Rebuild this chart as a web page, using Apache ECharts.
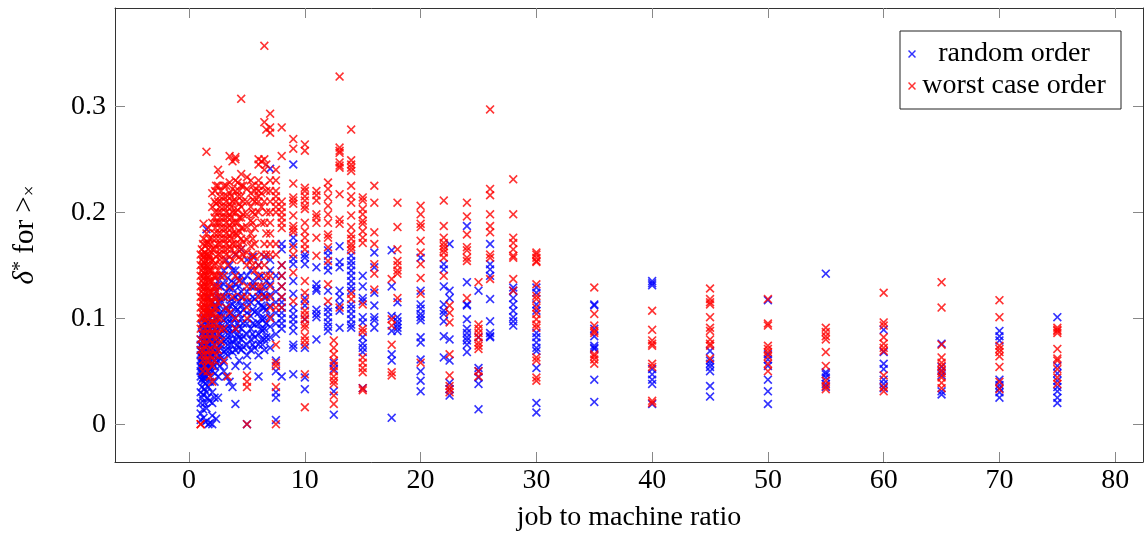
<!DOCTYPE html>
<html>
<head>
<meta charset="utf-8">
<script src="https://cdn.jsdelivr.net/npm/echarts@6/dist/echarts.min.js"></script>
<style>html,body{margin:0;padding:0;background:#fff}#c{width:1144px;height:540px}</style>
</head>
<body>
<div id="c"></div>
<script>
// ---- data: each row = [x, y1, y2, ...] ----
const seriesNames = ['random order', 'worst case order'];
const xTicks = [0, 10, 20, 30, 40, 50, 60, 70, 80];
const yTicks = [0, 0.1, 0.2, 0.3];

const randomOrder = [
  [1, 0.045, 0.05, 0.055, 0.06, 0.065, 0.07, 0.075, 0.08, 0.03, 0.02, 0.01, 0.004],
  [1.1, 0.042, 0.048, 0.053, 0.058, 0.063, 0.068, 0.074, 0.085, 0.093, 0.035, 0.025],
  [1.2, 0.044, 0.05, 0.056, 0.062, 0.067, 0.072, 0.078, 0.09, 0.1, 0.014, 0.028],
  [1.25, 0.047, 0.052, 0.059, 0.065, 0.071, 0.08, 0.088, 0.04, 0.006],
  [1.33, 0.043, 0.05, 0.057, 0.064, 0.07, 0.077, 0.084, 0.096, 0.033, 0.02],
  [1.4, 0.046, 0.052, 0.06, 0.068, 0.075, 0.082, 0.09, 0.1, 0.038, 0.002],
  [1.5, 0.045, 0.05, 0.055, 0.062, 0.069, 0.076, 0.083, 0.091, 0.105, 0.184, 0.03, 0.015],
  [1.6, 0.048, 0.056, 0.063, 0.07, 0.078, 0.087, 0.095, 0.11, 0.025],
  [1.67, 0.05, 0.058, 0.066, 0.074, 0.082, 0.09, 0.098, 0.12, 0.035, 0.0],
  [1.75, 0.052, 0.06, 0.068, 0.076, 0.085, 0.094, 0.105, 0.022],
  [1.8, 0.055, 0.063, 0.071, 0.08, 0.089, 0.1, 0.04, 0.001],
  [2, 0.05, 0.058, 0.065, 0.072, 0.08, 0.088, 0.096, 0.105, 0.115, 0.03, 0.02, 0.0, 0.008],
  [2.2, 0.055, 0.065, 0.075, 0.085, 0.095, 0.108, 0.12, 0.04, 0.025],
  [2.25, 0.06, 0.07, 0.08, 0.09, 0.1, 0.113, 0.13, 0.048],
  [2.33, 0.058, 0.068, 0.078, 0.088, 0.1, 0.112, 0.125, 0.005],
  [2.5, 0.06, 0.07, 0.08, 0.09, 0.1, 0.11, 0.12, 0.135, 0.045, 0.025],
  [2.67, 0.065, 0.075, 0.085, 0.095, 0.105, 0.118, 0.13, 0.055],
  [2.75, 0.062, 0.072, 0.082, 0.092, 0.103, 0.115, 0.14],
  [3, 0.058, 0.068, 0.078, 0.088, 0.098, 0.108, 0.12, 0.132, 0.145, 0.05],
  [3.2, 0.07, 0.08, 0.09, 0.1, 0.11, 0.125, 0.155, 0.045],
  [3.33, 0.065, 0.075, 0.085, 0.095, 0.107, 0.12, 0.138],
  [3.5, 0.07, 0.08, 0.09, 0.1, 0.112, 0.128, 0.15, 0.04],
  [3.67, 0.075, 0.085, 0.095, 0.105, 0.118, 0.135],
  [3.75, 0.068, 0.078, 0.088, 0.1, 0.113, 0.128, 0.145, 0.035],
  [4, 0.07, 0.08, 0.09, 0.1, 0.11, 0.12, 0.132, 0.145, 0.16, 0.019, 0.055],
  [4.2, 0.075, 0.085, 0.095, 0.108, 0.122, 0.138],
  [4.33, 0.072, 0.082, 0.092, 0.104, 0.116, 0.13, 0.06],
  [4.5, 0.07, 0.08, 0.09, 0.1, 0.112, 0.125, 0.14, 0.165],
  [4.67, 0.073, 0.083, 0.095, 0.108, 0.12, 0.135],
  [5, 0.065, 0.075, 0.085, 0.095, 0.105, 0.115, 0.125, 0.14, 0.155, 0.0, 0.055],
  [5.33, 0.07, 0.08, 0.09, 0.102, 0.115, 0.13, 0.145],
  [5.5, 0.075, 0.085, 0.095, 0.108, 0.12, 0.135, 0.158],
  [5.67, 0.072, 0.082, 0.094, 0.106, 0.118, 0.13],
  [6, 0.065, 0.075, 0.085, 0.095, 0.105, 0.115, 0.125, 0.138, 0.15, 0.045],
  [6.25, 0.08, 0.09, 0.1, 0.112, 0.125, 0.14],
  [6.33, 0.075, 0.088, 0.098, 0.11, 0.122],
  [6.5, 0.07, 0.08, 0.09, 0.1, 0.11, 0.12, 0.13, 0.158],
  [6.67, 0.082, 0.095, 0.108, 0.12, 0.135],
  [7, 0.072, 0.082, 0.092, 0.102, 0.112, 0.122, 0.132, 0.145, 0.155, 0.241],
  [7.5, 0.05, 0.06, 0.085, 0.095, 0.105, 0.115, 0.125, 0.14, 0.025, 0.03, 0.004],
  [8, 0.045, 0.09, 0.095, 0.1, 0.105, 0.11, 0.115, 0.12, 0.13, 0.14, 0.15, 0.165, 0.17],
  [9, 0.245, 0.176, 0.170, 0.156, 0.151, 0.135, 0.123, 0.110, 0.104, 0.099, 0.094, 0.088, 0.075, 0.072, 0.047],
  [10, 0.160, 0.157, 0.151, 0.119, 0.112, 0.099, 0.072, 0.044, 0.033],
  [11, 0.148, 0.132, 0.128, 0.126, 0.108, 0.104, 0.101, 0.080],
  [12, 0.164, 0.159, 0.150, 0.145, 0.126, 0.110, 0.106, 0.101, 0.096, 0.092, 0.088],
  [12.5, 0.058, 0.052, 0.031, 0.009],
  [13, 0.168, 0.153, 0.148, 0.126, 0.12, 0.113, 0.107, 0.091],
  [14, 0.159, 0.154, 0.150, 0.145, 0.140, 0.135, 0.130, 0.126, 0.113, 0.109, 0.104, 0.099, 0.094, 0.091],
  [15, 0.140, 0.130, 0.119, 0.116, 0.101, 0.096, 0.082, 0.076, 0.072, 0.068, 0.034],
  [16, 0.162, 0.148, 0.124, 0.112, 0.101, 0.098, 0.091],
  [17.5, 0.164, 0.130, 0.102, 0.088, 0.066, 0.060, 0.006],
  [18, 0.115, 0.101, 0.097, 0.094, 0.091, 0.088],
  [20, 0.157, 0.126, 0.113, 0.109, 0.104, 0.101, 0.098, 0.082, 0.077, 0.061, 0.050, 0.041, 0.031],
  [22, 0.151, 0.146, 0.130, 0.113, 0.107, 0.104, 0.097, 0.083, 0.063],
  [22.5, 0.170, 0.126, 0.119, 0.080, 0.060, 0.039, 0.033, 0.027],
  [24, 0.187, 0.134, 0.113, 0.112, 0.099, 0.090, 0.086, 0.082, 0.079, 0.075, 0.068],
  [25, 0.126, 0.082, 0.053, 0.050, 0.044, 0.038, 0.014],
  [26, 0.170, 0.151, 0.146, 0.140, 0.118, 0.097, 0.086, 0.083, 0.082],
  [28, 0.129, 0.126, 0.119, 0.113, 0.107, 0.101, 0.097, 0.093],
  [30, 0.129, 0.124, 0.113, 0.107, 0.086, 0.082, 0.077, 0.072, 0.069, 0.053, 0.020, 0.011],
  [35, 0.113, 0.112, 0.090, 0.083, 0.074, 0.072, 0.071, 0.042, 0.021],
  [40, 0.135, 0.133, 0.131, 0.052, 0.047, 0.042, 0.038, 0.019],
  [45, 0.069, 0.060, 0.057, 0.054, 0.050, 0.036, 0.026],
  [50, 0.117, 0.066, 0.061, 0.055, 0.042, 0.031, 0.019],
  [55, 0.142, 0.049, 0.047, 0.044, 0.038, 0.035],
  [60, 0.089, 0.068, 0.057, 0.052, 0.042, 0.038, 0.034],
  [65, 0.076, 0.054, 0.05, 0.046, 0.031, 0.028],
  [70, 0.088, 0.083, 0.079, 0.042, 0.037, 0.034, 0.030, 0.025],
  [75, 0.101, 0.055, 0.048, 0.041, 0.035, 0.031, 0.025, 0.020]
];

const worstCaseOrder = [
  [1, 0.0, 0.0, 0.1, 0.11, 0.12, 0.13, 0.14, 0.15, 0.16, 0.09, 0.08, 0.07],
  [1.1, 0.095, 0.105, 0.115, 0.125, 0.135, 0.145, 0.155, 0.165, 0.075, 0.065],
  [1.2, 0.1, 0.11, 0.12, 0.13, 0.14, 0.15, 0.16, 0.17, 0.085, 0.06, 0.05],
  [1.25, 0.108, 0.118, 0.128, 0.138, 0.148, 0.158, 0.175, 0.189, 0.07],
  [1.33, 0.102, 0.112, 0.122, 0.132, 0.142, 0.152, 0.162, 0.08, 0.055],
  [1.4, 0.105, 0.115, 0.125, 0.135, 0.145, 0.155, 0.168, 0.09, 0.065],
  [1.5, 0.1, 0.11, 0.12, 0.13, 0.14, 0.15, 0.16, 0.17, 0.18, 0.257, 0.075, 0.06],
  [1.6, 0.108, 0.118, 0.128, 0.138, 0.148, 0.158, 0.172, 0.085, 0.05],
  [1.67, 0.095, 0.105, 0.115, 0.125, 0.135, 0.145, 0.155, 0.165, 0.185, 0.07],
  [1.75, 0.1, 0.11, 0.12, 0.13, 0.14, 0.15, 0.16, 0.175, 0.08, 0.06],
  [1.8, 0.09, 0.105, 0.115, 0.125, 0.135, 0.145, 0.158, 0.17, 0.065, 0.045],
  [2, 0.085, 0.095, 0.105, 0.115, 0.125, 0.135, 0.145, 0.155, 0.165, 0.175, 0.19, 0.205, 0.218, 0.07, 0.055, 0.04],
  [2.2, 0.1, 0.11, 0.12, 0.13, 0.14, 0.15, 0.165, 0.18, 0.195, 0.21, 0.075, 0.06],
  [2.25, 0.09, 0.105, 0.118, 0.128, 0.138, 0.152, 0.168, 0.185, 0.2, 0.22, 0.08],
  [2.33, 0.095, 0.11, 0.125, 0.14, 0.158, 0.175, 0.19, 0.208, 0.225, 0.065],
  [2.5, 0.1, 0.115, 0.13, 0.145, 0.16, 0.17, 0.18, 0.19, 0.2, 0.21, 0.225, 0.24, 0.085, 0.07],
  [2.67, 0.12, 0.14, 0.155, 0.165, 0.175, 0.185, 0.195, 0.205, 0.215, 0.235, 0.09],
  [2.75, 0.15, 0.16, 0.17, 0.18, 0.19, 0.2, 0.21, 0.22, 0.1, 0.078],
  [3, 0.14, 0.155, 0.165, 0.175, 0.185, 0.195, 0.205, 0.215, 0.225, 0.06, 0.09, 0.12],
  [3.2, 0.16, 0.17, 0.18, 0.19, 0.2, 0.21, 0.225, 0.11],
  [3.33, 0.15, 0.165, 0.175, 0.185, 0.195, 0.205, 0.215, 0.045],
  [3.5, 0.158, 0.168, 0.178, 0.188, 0.198, 0.208, 0.218, 0.228, 0.253, 0.13, 0.105],
  [3.67, 0.165, 0.175, 0.185, 0.195, 0.205, 0.215],
  [3.75, 0.155, 0.17, 0.18, 0.19, 0.2, 0.21, 0.222, 0.248, 0.12],
  [4, 0.16, 0.17, 0.18, 0.19, 0.2, 0.21, 0.22, 0.23, 0.25, 0.252, 0.14, 0.1, 0.09],
  [4.2, 0.165, 0.178, 0.19, 0.202, 0.215, 0.228],
  [4.33, 0.158, 0.17, 0.182, 0.195, 0.208, 0.22, 0.135],
  [4.5, 0.155, 0.165, 0.175, 0.185, 0.195, 0.205, 0.215, 0.225, 0.236, 0.307, 0.12],
  [4.67, 0.16, 0.172, 0.185, 0.198, 0.21, 0.225],
  [5, 0.15, 0.162, 0.174, 0.186, 0.198, 0.21, 0.222, 0.233, 0.1, 0.11, 0.12, 0.13, 0.046, 0.04, 0.035, 0.0],
  [5.33, 0.155, 0.168, 0.18, 0.192, 0.205, 0.218, 0.23],
  [5.5, 0.15, 0.16, 0.175, 0.19, 0.2, 0.212, 0.225, 0.13],
  [5.67, 0.145, 0.158, 0.17, 0.185, 0.198, 0.21, 0.22],
  [6, 0.12, 0.13, 0.14, 0.15, 0.2, 0.21, 0.215, 0.22, 0.225, 0.23, 0.245, 0.25],
  [6.25, 0.13, 0.16, 0.19, 0.205, 0.218, 0.248],
  [6.5, 0.15, 0.17, 0.19, 0.21, 0.225, 0.24, 0.25, 0.357, 0.285, 0.12],
  [6.67, 0.14, 0.16, 0.18, 0.2, 0.22, 0.245, 0.278],
  [7, 0.1, 0.11, 0.12, 0.13, 0.14, 0.16, 0.17, 0.18, 0.19, 0.2, 0.21, 0.22, 0.23, 0.275, 0.293, 0.28],
  [7.5, 0.16, 0.17, 0.2, 0.205, 0.21, 0.215, 0.22, 0.23, 0.24, 0.11, 0.075, 0.058, 0.055, 0.035, 0.0],
  [8, 0.28, 0.253, 0.21, 0.205, 0.2, 0.195, 0.19, 0.185, 0.15, 0.14, 0.13, 0.12, 0.11],
  [9, 0.269, 0.260, 0.227, 0.214, 0.211, 0.208, 0.197, 0.187, 0.184, 0.181, 0.167, 0.160, 0.143, 0.116],
  [10, 0.264, 0.258, 0.223, 0.220, 0.215, 0.211, 0.206, 0.203, 0.190, 0.182, 0.176, 0.170, 0.165, 0.135, 0.124, 0.116, 0.107, 0.103, 0.099, 0.094, 0.091, 0.083, 0.079, 0.075, 0.047, 0.016],
  [11, 0.220, 0.216, 0.211, 0.198, 0.195, 0.190, 0.176, 0.159],
  [12, 0.228, 0.222, 0.214, 0.206, 0.198, 0.190, 0.179, 0.176, 0.167, 0.154, 0.132, 0.116],
  [12.5, 0.079, 0.072, 0.066, 0.060, 0.055, 0.050, 0.045, 0.041, 0.038, 0.027, 0.019],
  [13, 0.328, 0.261, 0.258, 0.256, 0.247, 0.244, 0.242, 0.217, 0.193, 0.189, 0.11],
  [14, 0.278, 0.249, 0.245, 0.242, 0.239, 0.225, 0.215, 0.209, 0.197, 0.186, 0.179, 0.175, 0.170, 0.167, 0.164, 0.123, 0.118],
  [15, 0.214, 0.211, 0.203, 0.198, 0.192, 0.189, 0.182, 0.176, 0.171, 0.113, 0.090, 0.087, 0.063, 0.058, 0.053, 0.049, 0.034, 0.032],
  [16, 0.225, 0.209, 0.181, 0.170, 0.151, 0.142, 0.127],
  [17.5, 0.137, 0.099, 0.093, 0.075, 0.049, 0.046],
  [18, 0.209, 0.186, 0.165, 0.154, 0.150, 0.145, 0.142, 0.119],
  [20, 0.206, 0.198, 0.189, 0.186, 0.173, 0.162, 0.151, 0.138, 0.123, 0.058],
  [22, 0.211, 0.187, 0.176, 0.171, 0.168, 0.165, 0.162, 0.157, 0.140],
  [22.5, 0.112, 0.105, 0.096, 0.066, 0.046, 0.036, 0.033, 0.030],
  [24, 0.209, 0.196, 0.179, 0.167, 0.164, 0.157, 0.154, 0.119],
  [25, 0.134, 0.094, 0.090, 0.086, 0.082, 0.077, 0.074, 0.071, 0.05, 0.045],
  [26, 0.297, 0.222, 0.216, 0.198, 0.187, 0.181, 0.160, 0.157, 0.137],
  [28, 0.231, 0.198, 0.176, 0.171, 0.165, 0.159, 0.157, 0.137, 0.126],
  [30, 0.162, 0.160, 0.157, 0.154, 0.153, 0.132, 0.121, 0.118, 0.110, 0.104, 0.099, 0.094, 0.091, 0.063, 0.060, 0.044, 0.041],
  [35, 0.129, 0.104, 0.093, 0.088, 0.086, 0.066, 0.064, 0.061, 0.057],
  [40, 0.107, 0.089, 0.079, 0.076, 0.074, 0.057, 0.054, 0.022, 0.020],
  [45, 0.128, 0.118, 0.115, 0.113, 0.101, 0.091, 0.088, 0.080, 0.076, 0.074, 0.062],
  [50, 0.118, 0.095, 0.093, 0.074, 0.071, 0.068, 0.064, 0.057, 0.050],
  [55, 0.091, 0.087, 0.083, 0.080, 0.068, 0.055, 0.041, 0.036, 0.033],
  [60, 0.124, 0.096, 0.093, 0.082, 0.076, 0.072, 0.069, 0.046, 0.035, 0.031],
  [65, 0.134, 0.110, 0.075, 0.063, 0.058, 0.055, 0.051, 0.048, 0.044, 0.039, 0.034],
  [70, 0.117, 0.101, 0.074, 0.071, 0.068, 0.064, 0.054, 0.040, 0.033],
  [75, 0.091, 0.089, 0.088, 0.086, 0.071, 0.062, 0.060, 0.052, 0.044, 0.038]
];

function expand(rows) {
  const out = [];
  rows.forEach(r => { for (let i = 1; i < r.length; i++) out.push([r[0], r[i]]); });
  return out;
}

const FONT = 'Liberation Serif';
const XMARK = 'path://M0,1.3L1.3,0L5,3.7L8.7,0L10,1.3L6.3,5L10,8.7L8.7,10L5,6.3L1.3,10L0,8.7L3.7,5Z';
const X_MIN = -6.4, X_MAX = 82.4, Y_MIN = -0.0357, Y_MAX = 0.3927;

const frameLine = { show: true, onZero: false, lineStyle: { color: '#333', width: 1 } };
const tickStyle = { show: true, inside: true, length: 10, lineStyle: { color: '#888', width: 1 } };

const chart = echarts.init(document.getElementById('c'), null, { renderer: 'canvas' });
chart.setOption({
  animation: false,
  backgroundColor: '#fff',
  grid: { left: 115, right: 1, top: 8, bottom: 78, containLabel: false },
  legend: {
    orient: 'vertical', left: 900, top: 31,
    padding: [7, 14, 7, 8], itemGap: 0, itemWidth: 8, itemHeight: 8, itemTextGap: 5,
    borderColor: '#222', borderWidth: 1, borderRadius: 0, backgroundColor: '#fff',
    icon: XMARK,
    data: seriesNames,
    formatter: n => '{n|' + n + '}',
    textStyle: {
      fontFamily: FONT, fontSize: 28, color: '#000',
      rich: { n: { width: 186, align: 'center', fontFamily: FONT, fontSize: 28, lineHeight: 32, height: 32, color: '#000' } }
    }
  },
  xAxis: [
    {
      type: 'value', position: 'bottom', min: X_MIN, max: X_MAX,
      axisLine: frameLine, splitLine: { show: false },
      axisTick: Object.assign({ customValues: xTicks }, tickStyle),
      axisLabel: { customValues: xTicks, margin: 5, fontFamily: FONT, fontSize: 28, color: '#000' },
      name: 'job to machine ratio', nameLocation: 'middle', nameGap: 42,
      nameTextStyle: { fontFamily: FONT, fontSize: 28, color: '#000' }
    },
    {
      type: 'value', position: 'top', min: X_MIN, max: X_MAX,
      axisLine: frameLine, splitLine: { show: false },
      axisTick: Object.assign({ customValues: xTicks }, tickStyle),
      axisLabel: { show: false }
    }
  ],
  yAxis: [
    {
      type: 'value', position: 'left', min: Y_MIN, max: Y_MAX,
      axisLine: frameLine, splitLine: { show: false },
      axisTick: Object.assign({ customValues: yTicks }, tickStyle),
      axisLabel: {
        customValues: yTicks, margin: 9, fontFamily: FONT, fontSize: 28, color: '#000',
        formatter: v => (Math.abs(v) < 1e-9 ? '0' : v.toFixed(1))
      },
      name: '{d|δ}{s|*} for >{x|×}', nameLocation: 'middle', nameRotate: 90, nameGap: 75,
      nameTextStyle: {
        fontFamily: FONT, fontSize: 29, color: '#000',
        rich: {
          d: { fontFamily: FONT, fontSize: 29, fontStyle: 'italic', color: '#000' },
          s: { fontFamily: FONT, fontSize: 20, verticalAlign: 'top', lineHeight: 20, color: '#000' },
          x: { fontFamily: FONT, fontSize: 19, verticalAlign: 'bottom', lineHeight: 16, color: '#000' }
        }
      }
    },
    {
      type: 'value', position: 'right', min: Y_MIN, max: Y_MAX,
      axisLine: frameLine, splitLine: { show: false },
      axisTick: Object.assign({ customValues: yTicks }, tickStyle),
      axisLabel: { show: false }
    }
  ],
  series: [
    {
      name: seriesNames[0], type: 'scatter', xAxisIndex: 0, yAxisIndex: 0,
      symbol: XMARK, symbolSize: 9,
      itemStyle: { color: '#0000ff' },
      data: expand(randomOrder)
    },
    {
      name: seriesNames[1], type: 'scatter', xAxisIndex: 0, yAxisIndex: 0,
      symbol: XMARK, symbolSize: 9,
      itemStyle: { color: '#ff0000' },
      data: expand(worstCaseOrder)
    }
  ]
});
</script>
</body>
</html>
